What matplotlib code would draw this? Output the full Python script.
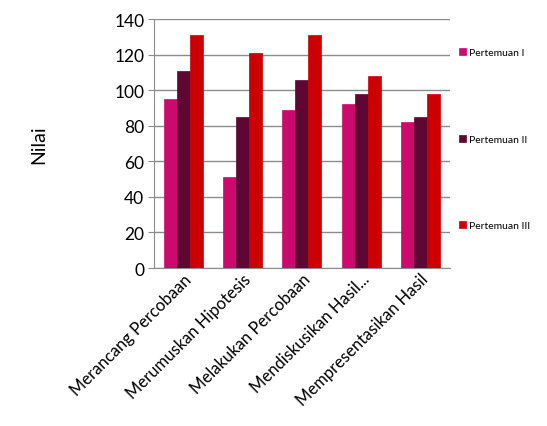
import numpy as np
import matplotlib
matplotlib.use('Agg')
import matplotlib.pyplot as plt

plt.rcParams['font.family'] = ['Lato', 'DejaVu Sans']

kategori = ['Merancang Percobaan', 'Merumuskan Hipotesis', 'Melakukan Percobaan',
            'Mendiskusikan Hasil...', 'Mempresentasikan Hasil']
pertemuan_1 = [95, 51, 89, 92, 82]
pertemuan_2 = [111, 85, 106, 98, 85]
pertemuan_3 = [131, 121, 131, 108, 98]
seri = ['Pertemuan I', 'Pertemuan II', 'Pertemuan III']
warna = ['#CC0A6E', '#5E0732', '#CC0000']

fig = plt.figure(figsize=(5.47, 4.27), dpi=100)
ax = fig.add_axes([0.2815, 0.370, 0.541, 0.583])

x = np.arange(len(kategori))
w = 0.22
for i, (vals, c, lab) in enumerate(zip([pertemuan_1, pertemuan_2, pertemuan_3], warna, seri)):
    ax.bar(x + (i - 1) * w, vals, w, color=c, label=lab, zorder=3,
           edgecolor=c, linewidth=0.5)

ax.set_xlim(-0.5, 4.5)
ax.set_ylim(0, 140)
ax.set_yticks(np.arange(0, 141, 20))
ax.yaxis.grid(True, color='#8c8c8c', linewidth=1.0, zorder=0)
ax.set_axisbelow(True)
for s in ['top', 'right']:
    ax.spines[s].set_visible(False)
ax.spines['left'].set_color('#8c8c8c')
ax.spines['bottom'].set_color('#8c8c8c')
ax.tick_params(axis='y', labelsize=12.5, length=4, color='#8c8c8c', pad=3)
ax.tick_params(axis='x', length=0, labelsize=12, pad=2)
ax.set_xticks(x)
ax.set_xticklabels(kategori, rotation=45, ha='right', rotation_mode='anchor')
ax.set_ylabel('Nilai', fontsize=14, labelpad=48)

ax.legend(loc='upper left', bbox_to_anchor=(1.015, 0.9), frameon=False,
          fontsize=7.5, labelspacing=7.4, handlelength=0.7, handleheight=0.7,
          handletextpad=0.3, borderaxespad=0)

fig.savefig('out.png', dpi=100)
